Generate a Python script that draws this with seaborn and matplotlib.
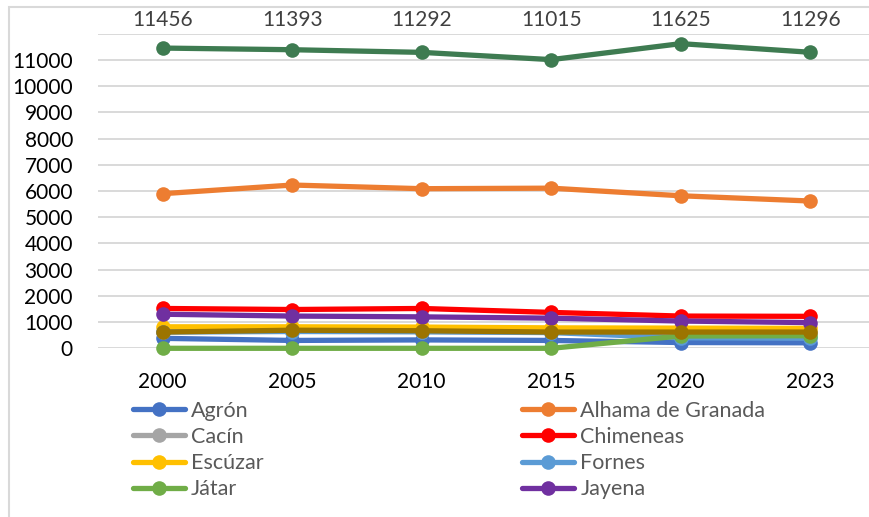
import pandas as pd
import matplotlib.pyplot as plt
import seaborn as sns
from matplotlib.lines import Line2D
from matplotlib.patches import Rectangle

# Datos de población por municipio
years = ['2000', '2005', '2010', '2015', '2020', '2023']
agron = [380, 300, 320, 300, 220, 210]
alhama = [5900, 6230, 6090, 6110, 5820, 5620]
cacin = [640, 650, 640, 610, 600, 590]
chimeneas = [1520, 1480, 1520, 1370, 1230, 1220]
escuzar = [820, 820, 810, 780, 770, 760]
fornes = [620, 640, 630, 600, 400, 390]
jatar = [0, 0, 0, 0, 470, 480]
jayena = [1300, 1230, 1200, 1150, 1040, 980]
serie_9 = [620, 690, 670, 620, 620, 620]
serie_10 = [11456, 11393, 11292, 11015, 11625, 11296]

names = ['Agrón', 'Alhama de Granada', 'Cacín', 'Chimeneas', 'Escúzar',
         'Fornes', 'Játar', 'Jayena', 'Serie 9', 'Serie 10']
values = [agron, alhama, cacin, chimeneas, escuzar, fornes, jatar, jayena,
          serie_9, serie_10]
colors = ['#4472C4', '#ED7D31', '#A5A5A5', '#FF0000', '#FFC000',
          '#5B9BD5', '#70AD47', '#7030A0', '#9C7400', '#3E7B51']

rows = []
for name, vals in zip(names, values):
    for y, v in zip(years, vals):
        rows.append({'year': y, 'municipio': name, 'poblacion': v})
df = pd.DataFrame(rows)

sns.set_style('white')
plt.rcParams['font.family'] = ['Lato', 'DejaVu Sans']

fig = plt.figure(figsize=(8.7, 5.17), dpi=100)
ax = fig.add_axes([98 / 870, 0.3263, 777 / 870, 0.6083])

sns.lineplot(data=df, x='year', y='poblacion', hue='municipio',
             hue_order=names, palette=colors, marker='o', markersize=10.5,
             markeredgewidth=0, linewidth=3.8, legend=False, ax=ax,
             clip_on=False)

ax.set_xlim(-0.5, 5.5)
ax.set_ylim(0, 12000)
ax.set_yticks(range(0, 13000, 1000))
ax.set_yticklabels([str(t) if t < 12000 else '' for t in range(0, 13000, 1000)])
ax.grid(axis='y', color='#d9d9d9', linewidth=1.4, zorder=0)
ax.set_axisbelow(True)
for s in ax.spines.values():
    s.set_visible(False)
ax.tick_params(axis='both', length=0, labelsize=15, colors='black')
ax.tick_params(axis='y', pad=18)
ax.tick_params(axis='x', pad=17)
ax.set_xlabel('')
ax.set_ylabel('')

# etiquetas de datos de la serie superior
for i, v in enumerate(serie_10):
    ax.text(i, 1.043, str(v), transform=ax.get_xaxis_transform(),
            ha='center', va='center', fontsize=15, color='#404040')

# leyenda (solo las entradas visibles), ordenada por filas
order = [0, 2, 4, 6, 1, 3, 5, 7]
handles = [Line2D([], [], color=colors[i], linewidth=3.8, marker='o',
                  markersize=10.5, markeredgewidth=0) for i in order]
fig.legend(handles, [names[i] for i in order], loc='upper left', ncol=2,
           bbox_to_anchor=(133 / 870, 1 - 401 / 517), frameon=False,
           fontsize=15.5, labelcolor='#595959', handlelength=2.4,
           handletextpad=0.3, columnspacing=12.0, labelspacing=0.28,
           borderpad=0, borderaxespad=0)

# borde del gráfico
fig.patches.append(Rectangle((9 / 870, -0.1), 1.2, 1 - 7 / 517 + 0.1,
                             transform=fig.transFigure, fill=False,
                             edgecolor='#d9d9d9', linewidth=1.5))

fig.savefig('out.png', dpi=100)
